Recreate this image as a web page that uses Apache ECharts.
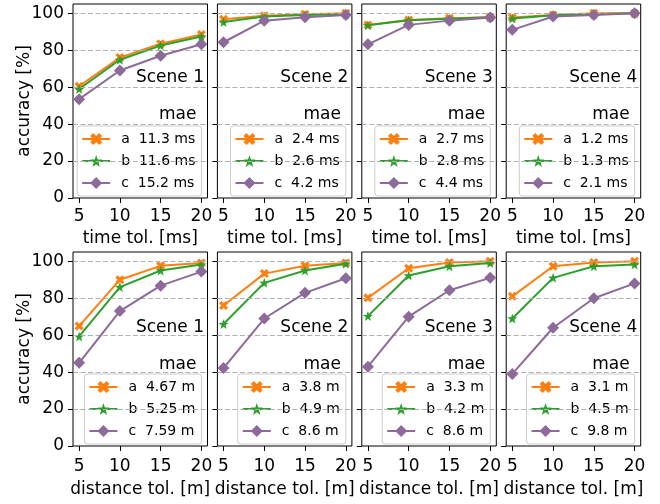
<!DOCTYPE html>
<html>
<head>
<meta charset="utf-8">
<script src="https://cdn.jsdelivr.net/npm/echarts@6/dist/echarts.min.js"></script>
<style>
  html, body { margin: 0; padding: 0; background: #fff; }
  #chart { width: 660px; height: 504px; }
</style>
</head>
<body>
<div id="chart"></div>
<script>
// tolerance ticks on the x axes, accuracy ticks on the y axes
const tolTicks = [5, 10, 15, 20];
const yTicks = [0, 20, 40, 60, 80, 100];
const scenes = ['Scene 1', 'Scene 2', 'Scene 3', 'Scene 4'];
const methods = ['a', 'b', 'c'];

// top row: accuracy vs time tolerance, one row per scene
const timeA = [[60.5, 76, 83.5, 88.5], [96.8, 98.7, 99.5, 100], [93.7, 96.4, 97.3, 97.8], [97.7, 99, 100, 100]];
const timeB = [[59, 74.8, 82.5, 87.4], [95.3, 98.2, 99, 99.5], [93.5, 96.2, 97, 97.8], [97.1, 98.9, 99.5, 100]];
const timeC = [[53.5, 69, 77, 83.2], [84.3, 96, 97.8, 99], [83.2, 93.7, 96, 97.7], [91, 98.2, 99, 100]];
const timeMae = [['11.3', '11.6', '15.2'], ['2.4', '2.6', '4.2'], ['2.7', '2.8', '4.4'], ['1.2', '1.3', '2.1']];

// bottom row: accuracy vs distance tolerance
const distA = [[64.9, 90, 97.5, 99], [76, 93.3, 97.5, 99], [80.2, 96.2, 99.3, 100], [81, 97.3, 99.3, 100]];
const distB = [[59.3, 86, 95, 98.2], [66, 88.3, 95, 98.6], [70.3, 92.3, 97.3, 99], [69, 91, 97.3, 98.2]];
const distC = [[45, 73, 86.8, 94.4], [42.2, 69, 82.9, 90.8], [42.9, 70, 84.3, 91], [39, 64, 80, 88]];
const distMae = [['4.67', '5.25', '7.59'], ['3.8', '4.9', '8.6'], ['3.3', '4.2', '8.6'], ['3.1', '4.5', '9.8']];

const FONT = 'DejaVu Sans';
const colors = ['#ff7f0e', '#2ca02c', '#8c6a9a'];
const symbols = [
  'path://M-1,-2L0,-1L1,-2L2,-1L1,0L2,1L1,2L0,1L-1,2L-2,1L-1,0L-2,-1Z',
  'path://M0,-10L2.35,-3.24L9.51,-3.09L3.8,1.24L5.88,8.09L0,4L-5.88,8.09L-3.8,1.24L-9.51,-3.09L-2.35,-3.24Z',
  'diamond'
];
const symbolSizes = [9, 10, 12];

const W = 660, H = 504;
const plotL = 73, stepX = 144.4, plotW = 134.5;
const rowTop = [4, 252], plotH = 194;
const tickMargin = [10, 12], xNameGap = [32, 35], titleShift = [0, 1.5];

const myChart = echarts.init(document.getElementById('chart'), null, { renderer: 'canvas' });

const grid = [], xAxis = [], yAxis = [], series = [], legend = [], title = [];

const rows = [
  { vals: [timeA, timeB, timeC], mae: timeMae, unit: 'ms', xname: 'time tol. [ms]' },
  { vals: [distA, distB, distC], mae: distMae, unit: 'm', xname: 'distance tol. [m]' }
];

rows.forEach((row, r) => {
  scenes.forEach((scene, c) => {
    const k = r * 4 + c;
    const left = plotL + c * stepX;
    const right = left + plotW;
    grid.push({
      left: left, top: rowTop[r], width: plotW, height: plotH,
      show: true, borderColor: '#000', borderWidth: 1, backgroundColor: 'transparent'
    });
    xAxis.push({
      type: 'value', gridIndex: k, min: 4.25, max: 20.75,
      name: row.xname, nameLocation: 'middle', nameGap: xNameGap[r], nameMoveOverlap: false,
      nameTextStyle: { fontFamily: FONT, fontSize: 17, color: '#000' },
      axisLine: { show: false },
      axisTick: { show: true, inside: false, length: 5, customValues: tolTicks, lineStyle: { color: '#000' } },
      axisLabel: { customValues: tolTicks, fontFamily: FONT, fontSize: 17, color: '#000', margin: tickMargin[r] },
      splitLine: { show: false }
    });
    yAxis.push({
      type: 'value', gridIndex: k, min: 0, max: 105,
      name: c === 0 ? 'accuracy [%]' : '', nameLocation: 'middle', nameGap: 40, nameMoveOverlap: false,
      nameTextStyle: { fontFamily: FONT, fontSize: 17, color: '#000' },
      axisLine: { show: false },
      axisTick: { show: true, inside: false, length: 5, customValues: yTicks, lineStyle: { color: '#000' } },
      axisLabel: { show: c === 0, customValues: yTicks, fontFamily: FONT, fontSize: 17, color: '#000', margin: 9 },
      splitLine: { show: false }
    });

    // dashed horizontal grid lines at the y ticks
    series.push({
      type: 'line', xAxisIndex: k, yAxisIndex: k, data: [], silent: true, z: 1,
      markLine: {
        silent: true, symbol: 'none', animation: false,
        label: { show: false },
        lineStyle: { color: '#b0b0b0', type: [5, 2.5], width: 1 },
        data: yTicks.filter(v => v > 0).map(v => ({ yAxis: v }))
      }
    });

    const names = [];
    const labels = {};
    methods.forEach((m, j) => {
      const nm = 'p' + k + m;
      names.push(nm);
      labels[nm] = m + '  ' + row.mae[c][j] + ' ' + row.unit;
      series.push({
        name: nm, type: 'line', xAxisIndex: k, yAxisIndex: k, z: 3 + j,
        data: tolTicks.map((x, i) => [x, row.vals[j][c][i]]),
        color: colors[j],
        symbol: symbols[j], symbolSize: symbolSizes[j], showAllSymbol: true,
        lineStyle: { width: 2, color: colors[j] },
        itemStyle: { color: colors[j], borderColor: colors[j], borderWidth: 0, opacity: 1 },
        emphasis: { disabled: true }
      });
    });

    const legRight = right - 6;
    legend.push({
      data: names,
      formatter: name => labels[name],
      orient: 'vertical',
      right: W - legRight,
      bottom: H - (rowTop[r] + plotH) + 2,
      itemWidth: 28, itemHeight: 15, itemGap: 4,
      padding: [4, 6, 4, 4],
      backgroundColor: 'rgba(255,255,255,0.8)',
      borderColor: '#cccccc', borderWidth: 1, borderRadius: 3,
      selectedMode: false,
      textStyle: { fontFamily: FONT, fontSize: 14, color: '#000', lineHeight: 18, padding: [0, 0, 0, 6] }
    });

    title.push({
      text: scene, right: W - (right - 3.5), top: rowTop[r] + 65.5 + titleShift[r], padding: 0,
      textStyle: { fontFamily: FONT, fontSize: 17, fontWeight: 'normal', color: '#000' }
    });
    title.push({
      text: 'mae', right: W - (legRight - 5), top: rowTop[r] + 102.5 + titleShift[r], padding: 0,
      textStyle: { fontFamily: FONT, fontSize: 17, fontWeight: 'normal', color: '#000' }
    });
  });
});

const option = {
  animation: false,
  backgroundColor: '#fff',
  textStyle: { fontFamily: FONT },
  title: title,
  legend: legend,
  grid: grid,
  xAxis: xAxis,
  yAxis: yAxis,
  series: series
};

myChart.setOption(option);
</script>
</body>
</html>
